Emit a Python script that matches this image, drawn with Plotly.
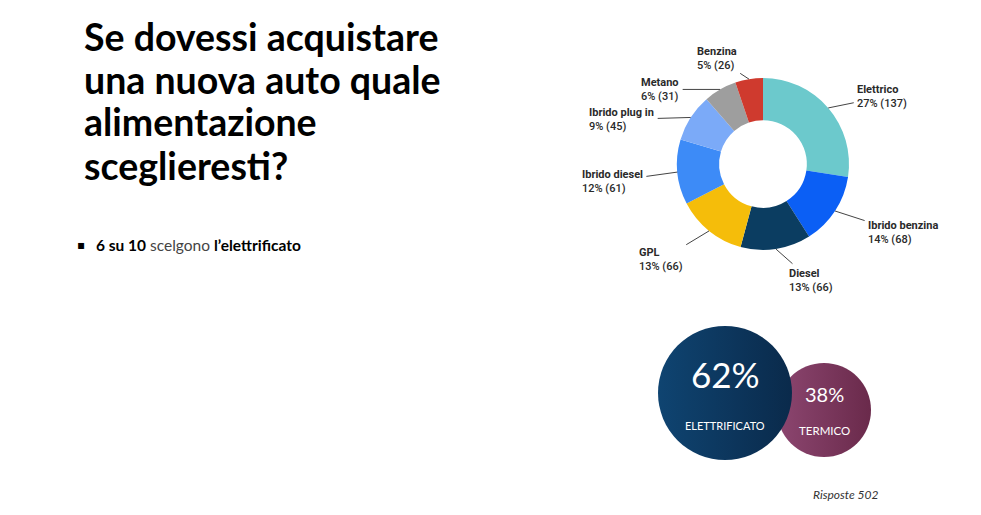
import math
import plotly.graph_objects as go

W, H = 981, 515

# ---- data ----
categories = ["Elettrico", "Ibrido benzina", "Diesel", "GPL", "Ibrido diesel",
              "Ibrido plug in", "Metano", "Benzina"]
counts = [137, 68, 66, 66, 61, 45, 31, 26]
percents = [27, 14, 13, 13, 12, 9, 6, 5]
colors = ["#6CC9CC", "#0B5FF5", "#0B3D61", "#F5BD0A", "#3D8BF7",
          "#7BAAF8", "#9E9E9E", "#CF3A2E"]

split_labels = ["ELETTRIFICATO", "TERMICO"]
split_values = [62, 38]
total_responses = 502

title_lines = ["Se dovessi acquistare", "una nuova auto quale", "alimentazione", "sceglieresti?"]

# ---- layout constants ----
cx, cy, R = 763, 164, 86  # donut centre / radius in px
label_offsets = [(54, -11), (68, 22), (35, 31), (-48, 29), (-65, 9),
                 (-69, 2), (-60, 0), (-32, -21)]

fig = go.Figure()

fig.add_trace(go.Pie(
    labels=categories, values=counts, sort=False, direction="clockwise",
    rotation=0, hole=0.51, marker=dict(colors=colors, line=dict(width=0)),
    textinfo="none", hoverinfo="label+value+percent", showlegend=False,
    domain=dict(x=[(cx - R) / W, (cx + R) / W], y=[1 - (cy + R) / H, 1 - (cy - R) / H]),
))

annotations = []
total = sum(counts)
cum = 0
for name, c, p, (ax, ay) in zip(categories, counts, percents, label_offsets):
    mid = (cum + c / 2) / total * 2 * math.pi
    cum += c
    px = cx + R * math.sin(mid)
    py = cy - R * math.cos(mid)
    annotations.append(dict(
        x=px / W, y=1 - py / H, xref="paper", yref="paper",
        text=f"<b>{name}</b><br>{p}% ({c})", align="left",
        showarrow=True, arrowhead=0, arrowwidth=1, arrowcolor="#444",
        ax=ax, ay=ay, standoff=0, startstandoff=2,
        font=dict(family="Roboto", size=11, color="#2a2a2a", weight=500),
    ))

# title (one annotation per line for exact line spacing)
for i, line in enumerate(title_lines):
    annotations.append(dict(
        x=82 / W, y=1 - (36 + 43 * i) / H, xref="paper", yref="paper",
        xanchor="left", yanchor="middle",
        text=f"<b>{line}</b>", align="left", showarrow=False,
        font=dict(family="Lato", size=37.5, color="#000000", weight=900),
    ))
# bullet
annotations.append(dict(
    x=75 / W, y=1 - 245 / H, xref="paper", yref="paper", xanchor="left", yanchor="middle",
    text="▪", showarrow=False, font=dict(family="DejaVu Sans", size=12, color="#000"),
))
annotations.append(dict(
    x=94 / W, y=1 - 245 / H, xref="paper", yref="paper", xanchor="left", yanchor="middle",
    text="<b>6 su 10</b> <span style='color:#444'>scelgono</span> <b>l’elettrificato</b>",
    showarrow=False, font=dict(family="Lato", size=15.5, color="#000"),
))
annotations.append(dict(
    x=880 / W, y=1 - 494 / H, xref="paper", yref="paper", xanchor="right", yanchor="middle",
    text=f"<i>Risposte {total_responses}</i>", showarrow=False,
    font=dict(family="Lato", size=12, color="#333"),
))

# bubbles
bx = [725, 824]
by = [393, 410]
bsize = [134, 94]
bcol = ["#0F4471", "#8C4670"]
bgrad = ["#0A2A4B", "#6A2A4B"]
fig.add_trace(go.Scatter(
    x=[bx[1]], y=[by[1]], mode="markers", showlegend=False, hoverinfo="skip",
    marker=dict(size=bsize[1], color=bcol[1], line=dict(width=0),
                gradient=dict(type="horizontal", color=bgrad[1])),
))
fig.add_trace(go.Scatter(
    x=[bx[0]], y=[by[0]], mode="markers", showlegend=False, hoverinfo="skip",
    marker=dict(size=bsize[0], color=bcol[0], line=dict(width=0),
                gradient=dict(type="horizontal", color=bgrad[0])),
))
annotations += [
    dict(x=bx[0], y=374, xref="x", yref="y", text=f"{split_values[0]}%", showarrow=False,
         font=dict(family="Lato", size=35, color="white", weight=400)),
    dict(x=bx[0], y=425, xref="x", yref="y", text=split_labels[0], showarrow=False,
         font=dict(family="Lato", size=11, color="white")),
    dict(x=bx[1], y=394, xref="x", yref="y", text=f"{split_values[1]}%", showarrow=False,
         font=dict(family="Lato", size=20, color="white", weight=400)),
    dict(x=bx[1], y=430, xref="x", yref="y", text=split_labels[1], showarrow=False,
         font=dict(family="Lato", size=11.5, color="white")),
]

fig.update_layout(
    width=W, height=H, margin=dict(l=0, r=0, t=0, b=0),
    paper_bgcolor="white", plot_bgcolor="rgba(0,0,0,0)",
    xaxis=dict(range=[0, W], visible=False, domain=[0, 1], fixedrange=True),
    yaxis=dict(range=[H, 0], visible=False, domain=[0, 1], fixedrange=True),
    annotations=annotations,
)

fig.write_html("out.html")
